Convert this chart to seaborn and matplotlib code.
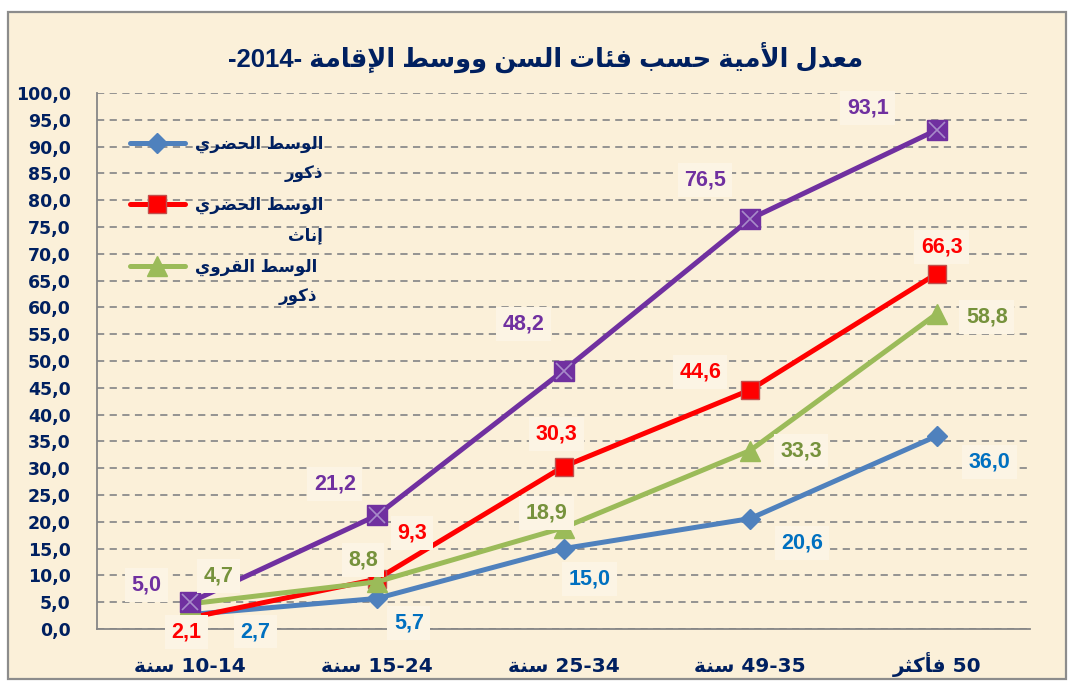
import re
import numpy as np
import pandas as pd
import matplotlib
matplotlib.use('Agg')
import matplotlib.pyplot as plt
import seaborn as sns
from matplotlib.patches import Rectangle
from matplotlib.ticker import FixedLocator

# ---- data ----
age_groups = ['10-14 سنة', '15-24 سنة', '25-34 سنة', '49-35 سنة', '50 فأكثر']
urban_male = [2.7, 5.7, 15.0, 20.6, 36.0]
urban_female = [2.1, 9.3, 30.3, 44.6, 66.3]
rural_male = [4.7, 8.8, 18.9, 33.3, 58.8]
rural_female = [5.0, 21.2, 48.2, 76.5, 93.1]
series_names = ['الوسط الحضري\nذكور', 'الوسط الحضري\nإناث',
                'الوسط القروي\nذكور', 'الوسط القروي\nإناث']
chart_title = 'معدل الأمية حسب فئات السن ووسط الإقامة -2014-'
y_ticks = [0, 5, 10, 15, 20, 25, 30, 35, 40, 45, 50,
           55, 60, 65, 70, 75, 80, 85, 90, 95, 100]


# ---- minimal arabic shaping (matplotlib has no text shaping) ----
FORMS = {
    'ا': (0xFE8D, 2), 'أ': (0xFE83, 2), 'إ': (0xFE87, 2), 'ب': (0xFE8F, 4),
    'ة': (0xFE93, 2), 'ت': (0xFE95, 4), 'ث': (0xFE99, 4), 'ح': (0xFEA1, 4),
    'د': (0xFEA9, 2), 'ذ': (0xFEAB, 2), 'ر': (0xFEAD, 2), 'س': (0xFEB1, 4),
    'ض': (0xFEBD, 4), 'ط': (0xFEC1, 4), 'ع': (0xFEC9, 4), 'ف': (0xFED1, 4),
    'ق': (0xFED5, 4), 'ك': (0xFED9, 4), 'ل': (0xFEDD, 4), 'م': (0xFEE1, 4),
    'ن': (0xFEE5, 4), 'و': (0xFEED, 2), 'ي': (0xFEF1, 4), 'ئ': (0xFE89, 4),
}
LAM_ALEF = {'ا': 0xFEFB, 'أ': 0xFEF7, 'إ': 0xFEF9}


def shape(s):
    out = []
    i = 0
    while i < len(s):
        c = s[i]
        if c not in FORMS:
            out.append(c)
            i += 1
            continue
        prev = s[i - 1] if i > 0 else ''
        joins_prev = prev in FORMS and FORMS[prev][1] == 4
        if c == 'ل' and i + 1 < len(s) and s[i + 1] in LAM_ALEF:
            out.append(chr(LAM_ALEF[s[i + 1]] + int(joins_prev)))
            i += 2
            continue
        nxt = s[i + 1] if i + 1 < len(s) else ''
        joins_next = FORMS[c][1] == 4 and nxt in FORMS
        base = FORMS[c][0]
        if joins_prev and joins_next:
            code = base + 3
        elif joins_prev:
            code = base + 1
        elif joins_next:
            code = base + 2
        else:
            code = base
        out.append(chr(code))
        i += 1
    return ''.join(out)


def ar(text):
    lines = []
    for line in text.split('\n'):
        parts = re.split(r'(-?\d[\d\-]*)', shape(line))
        parts = [p if re.fullmatch(r'-?\d[\d\-]*', p) else p[::-1] for p in parts]
        lines.append(''.join(parts[::-1]))
    return '\n'.join(lines)


# ---- style ----
bg = '#FBF0D9'
navy = '#002060'
FONT = ['Liberation Sans', 'DejaVu Sans']
styles = [
    dict(color='#4F81BD', marker='D', ms=10, mec='#4F81BD', text='#0070C0',
         offs=[(65, -17), (32, -25), (26, -30), (52, -24), (53, -26)]),
    dict(color='#FF0000', marker='s', ms=13, mec='#C0504D', text='#FF0000',
         offs=[(-4, -14), (35, 46), (-7, 33), (-50, 18), (5, 27)]),
    dict(color='#9BBB59', marker='^', ms=14, mec='#9BBB59', text='#76923C',
         offs=[(28, 28), (-14, 22), (-17, 15), (51, 0), (50, -3)]),
    dict(color='#7030A0', marker='s', ms=14, mec='#7030A0', text='#7030A0',
         offs=[(-44, 17), (-42, 31), (-40, 47), (-45, 39), (-69, 22)]),
]
all_series = [urban_male, urban_female, rural_male, rural_female]

sns.set_style('white')
plt.rcParams['font.family'] = FONT

fig = plt.figure(figsize=(10.7, 6.82), dpi=100, facecolor='white')
fig.patches.append(Rectangle((8 / 1070, 3 / 682), 1058 / 1070, 667 / 682,
                             transform=fig.transFigure, facecolor=bg,
                             edgecolor='#8C8C8C', linewidth=1.6, zorder=-10))
ax = fig.add_axes([97 / 1070, 1 - 629 / 682, 933 / 1070, 536 / 682])
ax.set_facecolor('none')

x = np.arange(len(age_groups))
for i, (vals, st) in enumerate(zip(all_series, styles)):
    lab = ar(series_names[i].split('\n')[0]) if i < 3 else '_nolegend_'
    sns.lineplot(x=x, y=vals, ax=ax, color=st['color'], linewidth=3.6,
                 marker=st['marker'], markersize=st['ms'],
                 markerfacecolor=st['color'], markeredgecolor=st['mec'],
                 markeredgewidth=1.0, label=lab, zorder=3 + i)
    if i == 3:
        ax.plot(x, vals, linestyle='none', marker='x', ms=11,
                mew=1.2, color='#A78BC9', zorder=7)

for vals, st in zip(all_series, styles):
    for xi, v, (dx, dy) in zip(x, vals, st['offs']):
        ax.annotate(f'{v:.1f}'.replace('.', ','), (xi, v),
                    xytext=(dx * 0.72, dy * 0.72), textcoords='offset points',
                    ha='center', va='center', fontsize=15.5, fontweight='bold',
                    color=st['text'], zorder=10,
                    bbox=dict(boxstyle='square,pad=0.3', fc='#FCF4E4', ec='none'))

ax.set_xlim(-0.5, 4.5)
ax.set_ylim(0, 100)
ax.set_yticks(y_ticks)
ax.set_yticklabels([f'{t:.1f}'.replace('.', ',') for t in y_ticks],
                   fontsize=12.5, fontweight='bold', color=navy,
                   family='DejaVu Sans')
ax.set_xticks(x)
ax.set_xticklabels([ar(g) for g in age_groups], fontsize=14.5,
                   fontweight='bold', color=navy, family='DejaVu Sans')
for t in ax.get_xticklabels():
    t.set_verticalalignment('baseline')
ax.xaxis.set_minor_locator(FixedLocator(np.arange(-0.5, 5, 1)))
ax.tick_params(axis='x', which='major', length=0, pad=31)
ax.tick_params(axis='x', which='minor', length=6, width=1.3,
               color='#868686', direction='out')
ax.tick_params(axis='y', which='major', length=10, width=1.3,
               color='#868686', direction='inout', pad=14)

ax.yaxis.grid(True, linestyle=(0, (4, 3)), linewidth=1.3, color='#8C8C8C')
ax.set_axisbelow(True)
for side in ['top', 'right']:
    ax.spines[side].set_visible(False)
for side in ['left', 'bottom']:
    ax.spines[side].set_color('#868686')
    ax.spines[side].set_linewidth(1.3)
ax.set_xlabel('')
ax.set_ylabel('')

leg = ax.legend(loc='upper left', bbox_to_anchor=(0.028, 0.935), frameon=False,
                borderaxespad=0, handlelength=3.3, handletextpad=0.6,
                labelspacing=2.6,
                prop=dict(family='DejaVu Sans', weight='bold', size=12))
for t in leg.get_texts():
    t.set_color(navy)

fig.text(0.51, 1 - 57 / 682, ar(chart_title), ha='center', va='center',
         fontsize=18.5, fontweight='bold', color=navy)

# second line of each legend label, right-aligned under the first line
fig.canvas.draw()
for t, name in zip(leg.get_texts(), series_names):
    bb = t.get_window_extent()
    fig.text(bb.x1, (bb.y0 + bb.y1) / 2 - 30, ar(name.split('\n')[1]),
             transform=None, ha='right', va='center', fontsize=12,
             fontweight='bold', color=navy, family='DejaVu Sans')

fig.savefig('out.png', dpi=100, facecolor='white')
